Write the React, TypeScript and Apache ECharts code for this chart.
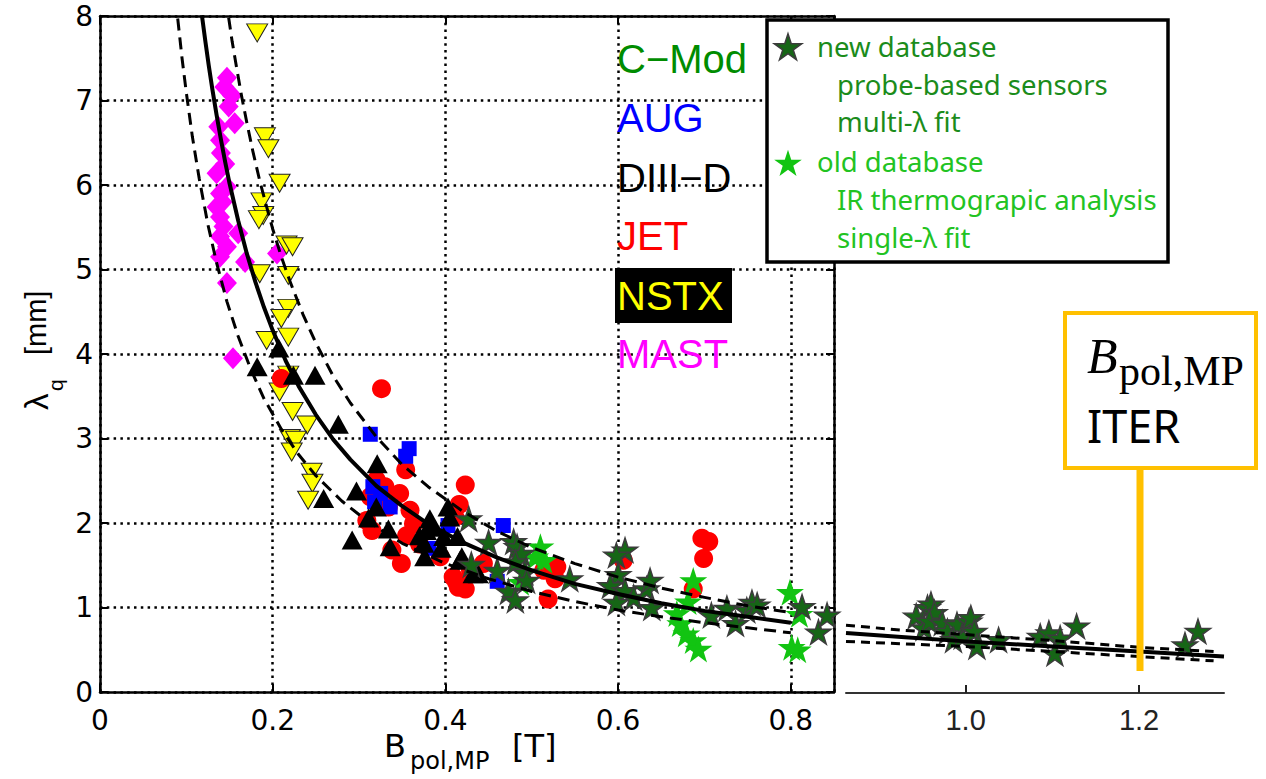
import React, { useEffect, useRef } from "react";
import * as echarts from "echarts";

// ---------------- data ----------------
const extTickValues = [1.0, 1.2];

const mastPoints = [
  [0.147, 7.27], [0.144, 7.16], [0.153, 7.06], [0.149, 6.93], [0.137, 6.69], [0.156, 6.73],
  [0.139, 6.53], [0.140, 6.38], [0.145, 6.25], [0.135, 6.14], [0.147, 5.98], [0.139, 5.90],
  [0.142, 5.80], [0.135, 5.74], [0.139, 5.62], [0.143, 5.51], [0.139, 5.39], [0.147, 5.27],
  [0.160, 5.43], [0.139, 5.15], [0.168, 5.09], [0.205, 5.19], [0.147, 4.84], [0.154, 3.95],
];

const nstxPoints = [
  [0.182, 7.80], [0.191, 6.57], [0.195, 6.43], [0.208, 6.02], [0.187, 5.80], [0.189, 5.64],
  [0.184, 5.59], [0.216, 5.29], [0.223, 5.27], [0.185, 4.95], [0.218, 4.93], [0.218, 4.54],
  [0.210, 4.42], [0.218, 4.20], [0.193, 4.16], [0.218, 3.75], [0.208, 3.55], [0.223, 3.32],
  [0.240, 3.16], [0.220, 3.00], [0.227, 2.98], [0.222, 2.84], [0.245, 2.60], [0.246, 2.47],
  [0.241, 2.27],
];

const jetPoints = [
  [0.210, 3.71], [0.326, 3.59], [0.354, 2.63], [0.320, 2.51], [0.330, 2.43], [0.347, 2.35],
  [0.313, 2.31], [0.334, 2.19], [0.359, 2.15], [0.363, 1.99], [0.309, 2.03], [0.315, 1.91],
  [0.338, 1.68], [0.349, 1.52], [0.423, 2.45], [0.416, 2.22], [0.411, 2.07], [0.409, 1.36],
  [0.415, 1.24], [0.429, 1.44], [0.444, 1.52], [0.394, 1.60], [0.413, 1.30], [0.423, 1.22],
  [0.519, 1.10], [0.527, 1.34], [0.514, 1.44], [0.529, 1.48], [0.606, 1.56], [0.697, 1.82],
  [0.705, 1.78], [0.699, 1.58], [0.687, 1.22], [0.370, 1.75], [0.355, 1.85],
];

const augPoints = [
  [0.313, 3.05], [0.358, 2.88], [0.354, 2.79], [0.316, 2.43], [0.318, 2.25], [0.336, 2.19],
  [0.403, 1.97], [0.467, 1.97], [0.460, 1.31], [0.381, 1.70], [0.325, 2.35],
];

const diiidPoints = [
  [0.207, 4.07], [0.182, 3.85], [0.224, 3.75], [0.249, 3.75], [0.276, 3.17], [0.259, 2.29],
  [0.297, 2.38], [0.321, 2.70], [0.292, 1.80], [0.311, 2.06], [0.320, 2.19], [0.334, 1.93],
  [0.336, 1.72], [0.382, 2.05], [0.378, 1.91], [0.386, 1.95], [0.375, 1.76], [0.376, 1.60],
  [0.403, 2.19], [0.405, 2.07], [0.398, 1.84], [0.417, 1.56], [0.432, 1.40], [0.414, 1.84],
  [0.419, 1.60], [0.438, 1.40], [0.370, 1.85], [0.395, 1.70],
];

const cmodOldPoints = [
  [0.510, 1.72], [0.514, 1.56], [0.504, 1.60], [0.487, 1.30], [0.687, 1.32], [0.681, 1.07],
  [0.668, 0.93], [0.672, 0.81], [0.679, 0.69], [0.687, 0.61], [0.693, 0.51], [0.799, 1.18],
  [0.801, 0.53], [0.808, 0.50], [0.810, 0.92],
];

const cmodNewPoints = [
  [0.427, 2.05], [0.450, 1.77], [0.479, 1.78], [0.483, 1.72], [0.488, 1.64], [0.481, 1.54],
  [0.430, 1.51], [0.460, 1.44], [0.492, 1.42], [0.494, 1.32], [0.473, 1.19], [0.481, 1.09],
  [0.544, 1.34], [0.608, 1.68], [0.598, 1.62], [0.600, 1.39], [0.591, 1.26], [0.608, 1.20],
  [0.598, 1.06], [0.618, 1.12], [0.633, 1.22], [0.637, 1.32], [0.639, 1.00], [0.708, 0.91],
  [0.726, 0.99], [0.736, 0.81], [0.749, 0.97], [0.755, 1.06], [0.761, 1.03], [0.813, 1.01],
  [0.832, 0.71], [0.842, 0.91],
];

const cmodNewExtPoints = [
  [0.943, 0.91], [0.956, 1.01], [0.960, 1.05], [0.964, 0.95], [0.952, 0.77], [0.958, 0.85],
  [0.973, 0.83], [0.979, 0.73], [0.990, 0.81], [0.986, 0.63], [0.996, 0.67], [1.004, 0.85],
  [1.006, 0.89], [1.010, 0.73], [1.013, 0.55], [1.038, 0.63], [1.086, 0.67], [1.096, 0.71],
  [1.109, 0.65], [1.103, 0.47], [1.128, 0.79], [1.253, 0.57], [1.268, 0.73],
];

// regression curve and its error band
const fitCentral = [
  [0.118, 8.01], [0.122, 7.70], [0.126, 7.41], [0.13, 7.14], [0.135, 6.83], [0.14, 6.54],
  [0.145, 6.27], [0.15, 6.02], [0.16, 5.58], [0.17, 5.19], [0.18, 4.85], [0.19, 4.55],
  [0.2, 4.28], [0.215, 3.92], [0.23, 3.62], [0.25, 3.28], [0.27, 2.99], [0.29, 2.75],
  [0.32, 2.44], [0.35, 2.20], [0.38, 1.99], [0.42, 1.77], [0.46, 1.59], [0.5, 1.44],
  [0.55, 1.28], [0.6, 1.16], [0.65, 1.05], [0.7, 0.96], [0.75, 0.89], [0.8, 0.82],
];
const fitUpper = [
  [0.149, 7.98], [0.153, 7.70], [0.158, 7.40], [0.164, 7.05], [0.17, 6.74], [0.177, 6.40],
  [0.185, 6.05], [0.193, 5.74], [0.2, 5.48], [0.21, 5.15], [0.22, 4.86], [0.235, 4.47],
  [0.25, 4.13], [0.27, 3.74], [0.29, 3.42], [0.32, 3.02], [0.35, 2.69], [0.38, 2.43],
  [0.42, 2.14], [0.46, 1.90], [0.5, 1.71], [0.55, 1.52], [0.6, 1.36], [0.65, 1.23],
  [0.7, 1.12], [0.75, 1.02], [0.8, 0.94],
];
const fitLower = [
  [0.09, 7.97], [0.095, 7.50], [0.1, 7.09], [0.107, 6.57], [0.115, 6.07], [0.125, 5.53],
  [0.135, 5.08], [0.147, 4.62], [0.16, 4.21], [0.175, 3.81], [0.19, 3.47], [0.21, 3.11],
  [0.23, 2.81], [0.25, 2.56], [0.28, 2.26], [0.31, 2.02], [0.35, 1.76], [0.4, 1.52],
  [0.45, 1.34], [0.5, 1.19], [0.55, 1.07], [0.6, 0.97], [0.65, 0.89], [0.7, 0.82],
  [0.75, 0.76], [0.8, 0.70],
];
const extCentral = [[0.862, 0.71], [0.93, 0.66], [1.0, 0.61], [1.1, 0.55], [1.2, 0.49], [1.298, 0.43]];
const extUpper = [[0.862, 0.80], [0.93, 0.74], [1.0, 0.69], [1.1, 0.62], [1.2, 0.54], [1.286, 0.49]];
const extLower = [[0.862, 0.61], [0.93, 0.58], [1.0, 0.55], [1.1, 0.49], [1.2, 0.43], [1.286, 0.38]];

const machineNames = ["C\u2212Mod", "AUG", "DIII\u2212D", "JET", "NSTX", "MAST"];
const newDbLines = ["new database", "probe-based sensors", "multi-\u03bb fit"];
const oldDbLines = ["old database", "IR thermograpic analysis", "single-\u03bb fit"];

// ---------------- styles ----------------
const machineColors = ["#008c00", "#0000ff", "#000000", "#ff0000", "#ffff00", "#ff00ff"];
const machineY = [59, 118, 178, 236, 296, 354];

const STAR = "M50 0L61.2 34.5L97.6 34.5L68.2 55.9L79.4 90.5L50 69.1L20.6 90.5L31.8 55.9L2.4 34.5L38.8 34.5Z";
echarts.graphic.registerShape("starShape", echarts.graphic.extendPath(STAR, {}));
const STAR_SYMBOL = "path://" + STAR;

const NEW_STAR = "#166616";
const OLD_STAR = "#12c412";

function txt(text: string, x: number, y: number, size: number, family: string, fill: string, extra: any = {}) {
  return {
    type: "text",
    x,
    y,
    z: 100,
    style: { text, fontSize: size, fontFamily: family, fill, align: "left", verticalAlign: "middle", ...extra },
  };
}

function buildOption() {
  const dotted = { color: "#000", width: 2.5, type: [2.5, 4.3] };
  const frameLine = { onZero: false, lineStyle: { color: "#000", width: 2.5 } };
  const tick = { inside: true, length: 8, lineStyle: { color: "#000", width: 2 } };
  const tickFont = { fontFamily: "DejaVu Sans", fontSize: 28, color: "#000" };

  const scatter = (name: string, data: number[][], symbol: string, size: any, color: string, extra: any = {}, axis = 0) => ({
    type: "scatter",
    name,
    data,
    xAxisIndex: axis === 0 ? 0 : 2,
    yAxisIndex: axis === 0 ? 0 : 2,
    symbol,
    symbolSize: size,
    silent: true,
    itemStyle: { color, opacity: 1, ...(extra.itemStyle || {}) },
    ...(extra.symbolRotate ? { symbolRotate: extra.symbolRotate } : {}),
  });

  const curve = (data: number[][], dashed: boolean, axis = 0, width = 4, dash = [12, 7]) => ({
    type: "line",
    data,
    xAxisIndex: axis === 0 ? 0 : 2,
    yAxisIndex: axis === 0 ? 0 : 2,
    smooth: false,
    symbol: "none",
    silent: true,
    lineStyle: { color: "#000", width, type: dashed ? dash : "solid", cap: "butt", join: "round" },
  });

  const graphics: any[] = [];

  // y axis title  (λq [mm]), rotated
  graphics.push({
    type: "group",
    x: 36,
    y: 410,
    rotation: Math.PI / 2,
    z: 100,
    children: [
      { type: "text", x: 0, y: 0, z: 100, style: { text: "\u03bb", fontSize: 33, fontFamily: "Liberation Sans", fill: "#000", align: "left", verticalAlign: "middle" } },
      { type: "text", x: 19, y: 19, z: 100, style: { text: "q", fontSize: 21, fontFamily: "Liberation Sans", fill: "#000", align: "left", verticalAlign: "middle" } },
      { type: "text", x: 55, y: 0, z: 100, style: { text: "[mm]", fontSize: 29, fontFamily: "Liberation Sans", fill: "#000", align: "left", verticalAlign: "middle" } },
    ],
  });

  // x axis title  B_pol,MP [T]
  graphics.push(txt("B", 384, 746, 32, "DejaVu Sans", "#000"));
  graphics.push(txt("pol,MP", 410, 761, 24, "DejaVu Sans", "#000"));
  graphics.push(txt("[T]", 512, 746, 32, "DejaVu Sans", "#000"));

  // machine labels
  graphics.push({ type: "rect", z: 99, shape: { x: 615, y: 268, width: 117, height: 55 }, style: { fill: "#000" } });
  machineNames.forEach((n, i) => {
    graphics.push(txt(n, 617, machineY[i], 40, "Liberation Sans", machineColors[i]));
  });

  // legend box
  graphics.push({ type: "rect", z: 100, shape: { x: 767, y: 20, width: 401, height: 242 }, style: { fill: "#fff", stroke: "#000", lineWidth: 3.5 } });
  const s = 0.29;
  graphics.push({ type: "starShape", z: 101, x: 788 - 50 * s, y: 47 - 46 * s, scaleX: s, scaleY: s, style: { fill: NEW_STAR, stroke: "#3c3c3c", lineWidth: 1.5, strokeNoScale: true } });
  graphics.push({ type: "starShape", z: 101, x: 788 - 50 * s, y: 163 - 46 * s, scaleX: s, scaleY: s, style: { fill: OLD_STAR } });
  const legendX = [817, 837, 837];
  const newY = [46, 84, 121];
  const oldY = [161, 199, 237];
  newDbLines.forEach((t, i) => graphics.push({ ...txt(t, legendX[i], newY[i], 27.5, "Noto Sans", "#1b8c1b"), z: 101 }));
  oldDbLines.forEach((t, i) => graphics.push({ ...txt(t, legendX[i], oldY[i], 27.5, "Noto Sans", "#22c322"), z: 101 }));

  // ITER marker
  graphics.push({ type: "line", z: 100, shape: { x1: 1140, y1: 468, x2: 1140, y2: 671 }, style: { stroke: "#ffc000", lineWidth: 7 } });
  graphics.push({ type: "rect", z: 100, shape: { x: 1065, y: 313, width: 191, height: 155 }, style: { fill: "#fff", stroke: "#ffc000", lineWidth: 4 } });
  graphics.push({ ...txt("B", 1087, 356, 50, "Liberation Serif", "#000", { fontStyle: "italic" }), z: 101 });
  graphics.push({ ...txt("pol,MP", 1119, 371, 42, "Liberation Serif", "#000"), z: 101 });
  graphics.push({ ...txt("ITER", 1087, 425, 45, "Noto Sans", "#000"), z: 101 });

  return {
    animation: false,
    backgroundColor: "#fff",
    grid: [
      { left: 100, top: 16, width: 734, height: 676, show: false },
      { left: 846, top: 16, width: 378, height: 677, show: false },
    ],
    xAxis: [
      {
        gridIndex: 0, type: "value", min: 0, max: 0.85, interval: 0.2, position: "bottom",
        axisLine: frameLine, axisTick: tick,
        axisLabel: { ...tickFont, margin: 14, showMaxLabel: false, formatter: (v: number) => (v === 0 ? "0" : v.toFixed(1)) },
        splitLine: { show: true, lineStyle: dotted },
      },
      {
        gridIndex: 0, type: "value", min: 0, max: 0.85, interval: 0.2, position: "top",
        axisLine: frameLine, axisTick: tick, axisLabel: { show: false }, splitLine: { show: false },
      },
      {
        gridIndex: 1, type: "value", min: 0.862, max: 1.298, position: "bottom",
        axisLine: { onZero: false, lineStyle: { color: "#333", width: 2 } },
        axisTick: { inside: true, length: 8, customValues: extTickValues, lineStyle: { color: "#222", width: 2 } },
        axisLabel: { customValues: extTickValues, formatter: (v: number) => v.toFixed(1), fontFamily: "Liberation Sans", fontSize: 29, color: "#222", margin: 12 },
        splitLine: { show: false },
      },
    ],
    yAxis: [
      {
        gridIndex: 0, type: "value", min: 0, max: 8, interval: 1,
        axisLine: frameLine, axisTick: tick,
        axisLabel: { ...tickFont, margin: 7 },
        splitLine: { show: true, lineStyle: dotted },
      },
      {
        gridIndex: 0, type: "value", min: 0, max: 8, interval: 1, position: "right",
        axisLine: frameLine, axisTick: tick, axisLabel: { show: false }, splitLine: { show: false },
      },
      { gridIndex: 1, type: "value", min: 0, max: 8, show: false },
    ],
    series: [
      scatter("MAST", mastPoints, "diamond", [20, 22], "#ff00ff"),
      scatter("NSTX", nstxPoints, "triangle", [21, 18], "#ffff00", { symbolRotate: 180, itemStyle: { borderColor: "#222", borderWidth: 1 } }),
      scatter("JET", jetPoints, "circle", 19, "#ff0000"),
      scatter("AUG", augPoints, "rect", 15, "#0000ff"),
      curve(fitCentral, false),
      curve(fitUpper, true, 0, 3),
      curve(fitLower, true, 0, 3),
      scatter("DIII-D", diiidPoints, "triangle", [21, 19], "#000000"),
      scatter("old database", cmodOldPoints, STAR_SYMBOL, [28, 27], OLD_STAR),
      scatter("new database", cmodNewPoints, STAR_SYMBOL, [25, 24], NEW_STAR, { itemStyle: { borderColor: "#3c3c3c", borderWidth: 1.5 } }),
      curve(extCentral, false, 1, 4),
      curve(extUpper, true, 1, 3, [9, 6]),
      curve(extLower, true, 1, 3, [9, 6]),
      scatter("new database (ext)", cmodNewExtPoints, STAR_SYMBOL, [25, 24], NEW_STAR, { itemStyle: { borderColor: "#3c3c3c", borderWidth: 1.5 } }, 1),
    ],
    graphic: { elements: graphics },
  };
}

export default function App() {
  const ref = useRef<HTMLDivElement>(null);
  useEffect(() => {
    if (!ref.current) return;
    const chart = echarts.init(ref.current, undefined, { renderer: "svg" });
    chart.setOption(buildOption() as any);
    return () => chart.dispose();
  }, []);
  return (
    <div
      ref={ref}
      style={{ position: "fixed", left: 0, top: 0, width: 1266, height: 779, background: "#fff" }}
    />
  );
}
